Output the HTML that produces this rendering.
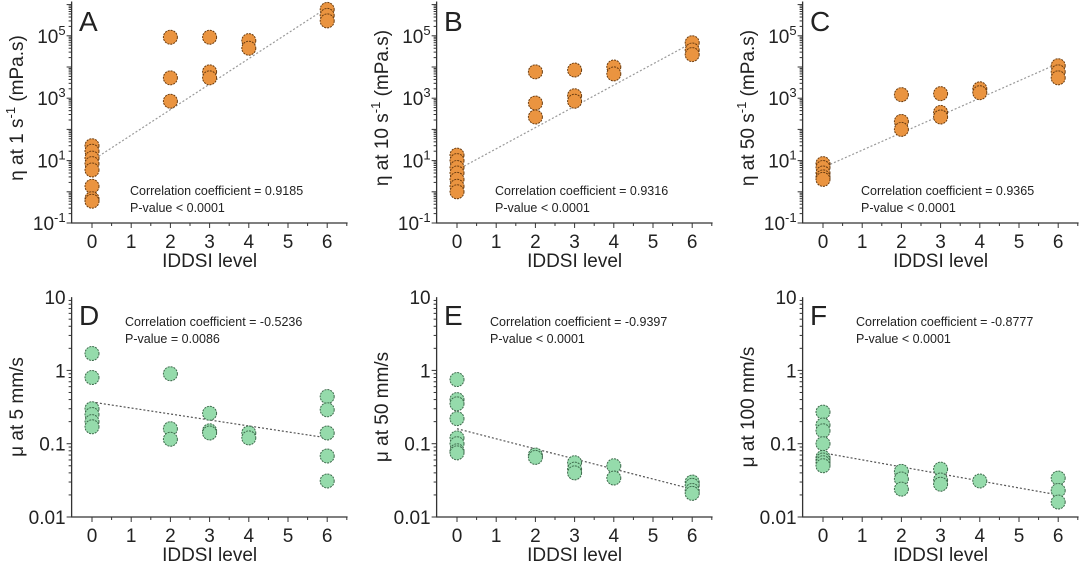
<!DOCTYPE html>
<html><head><meta charset="utf-8"><style>
body{margin:0;background:#fff;width:1080px;height:562px;overflow:hidden}
svg{display:block}
text{font-family:"Liberation Sans",sans-serif;fill:#222}
</style></head><body>
<svg id="fig" width="1080" height="562" viewBox="0 0 1080 562"></svg>
<script>
const levels=[0,2,3,4,6];
const xTicks=[0,1,2,3,4,5,6];
// Panel A
const aVals=[[30,20,12,8,5,1.5,0.6,0.5],[9e4,4.5e3,8e2],[9e4,7e3,4.5e3],[7e4,4e4],[7e5,4.5e5,3e5]];
const aTrend=[10,8e5];
// Panel B
const bVals=[[15,10,6,4,2.5,1.5,1],[7e3,7e2,2.5e2],[8e3,1.2e3,8e2],[1e4,6e3],[6e4,3.5e4,2.5e4]];
const bTrend=[5,6e4];
// Panel C
const cVals=[[8,6,4,3,2.5],[1.3e3,1.8e2,1e2],[1.4e3,3.5e2,2.5e2],[2e3,1.5e3],[1.1e4,7e3,4.5e3]];
const cTrend=[6,1.3e4];
// Panel D
const dVals=[[1.7,0.8,0.3,0.25,0.2,0.17],[0.9,0.16,0.115],[0.26,0.15,0.14],[0.14,0.12],[0.44,0.29,0.14,0.068,0.031]];
const dTrend=[0.37,0.12];
// Panel E
const eVals=[[0.75,0.4,0.35,0.22,0.12,0.1,0.08,0.075],[0.07,0.065],[0.055,0.045,0.04],[0.05,0.034],[0.03,0.027,0.023,0.021]];
const eTrend=[0.16,0.024];
// Panel F
const fVals=[[0.27,0.18,0.15,0.1,0.065,0.06,0.055,0.05],[0.042,0.033,0.024],[0.045,0.032,0.028],[0.031],[0.034,0.023,0.016]];
const fTrend=[0.075,0.02];
const topTicks=[-1,1,3,5];
const botTicks=["0.01","0.1","1","10"];

const NS="http://www.w3.org/2000/svg";
const svg=document.getElementById('fig');
function mk(tag,attrs,parent,txt){const e=document.createElementNS(NS,tag);for(const k in attrs)e.setAttribute(k,attrs[k]);if(txt!==undefined)e.textContent=txt;(parent||svg).appendChild(e);return e;}

const panels=[
 {id:'a',ox:0,top:true,vals:aVals,trend:aTrend,letter:'A',ylab:['η at 1 s','-1',' (mPa.s)'],r:'0.9185',p:'P-value < 0.0001'},
 {id:'b',ox:365,top:true,vals:bVals,trend:bTrend,letter:'B',ylab:['η at 10 s','-1',' (mPa.s)'],r:'0.9316',p:'P-value < 0.0001'},
 {id:'c',ox:731,top:true,vals:cVals,trend:cTrend,letter:'C',ylab:['η at 50 s','-1',' (mPa.s)'],r:'0.9365',p:'P-value < 0.0001'},
 {id:'d',ox:0,top:false,vals:dVals,trend:dTrend,letter:'D',ylab:['μ at 5 mm/s'],r:'-0.5236',p:'P-value = 0.0086'},
 {id:'e',ox:365,top:false,vals:eVals,trend:eTrend,letter:'E',ylab:['μ at 50 mm/s'],r:'-0.9397',p:'P-value < 0.0001'},
 {id:'f',ox:731,top:false,vals:fVals,trend:fTrend,letter:'F',ylab:['μ at 100 mm/s'],r:'-0.8777',p:'P-value < 0.0001'}
];

panels.forEach(P=>{
 const g=mk('g',{});
 
 
 const x0=P.ox+92, ux=39.2;
 const xs=v=>x0+v*ux;
 const axL=xs(-0.52), axR=xs(6.52);
 let ys, yBot, yTop, lo, hi;
 if(P.top){yBot=223;lo=-1;hi=6.1;const d=31.2;ys=v=>yBot-(Math.log10(v)-lo)*d;yTop=ys(Math.pow(10,hi));}
 else{yBot=517;lo=-2;hi=1;const d=73.3;ys=v=>yBot-(Math.log10(v)-lo)*d;yTop=ys(10);}
 const ax=mk('path',{d:`M${axL},${yTop}V${yBot}H${axR}`,fill:'none',stroke:'#333','stroke-width':1.3},g);
 
 for(let dec=lo;dec<Math.ceil(hi);dec++){for(let m=1;m<10;m++){const v=m*Math.pow(10,dec);const lv=Math.log10(v);if(lv>hi)break;const y=ys(v);mk('line',{x1:axL,x2:axL-(m==1?5:3),y1:y,y2:y,stroke:'#333','stroke-width':1},g);}}
 xTicks.forEach(t=>{mk('line',{x1:xs(t),x2:xs(t),y1:yBot,y2:yBot+5,stroke:'#333'},g);mk('line',{x1:xs(t+0.5),x2:xs(t+0.5),y1:yBot,y2:yBot+3,stroke:'#333'},g);
  const tl=mk('text',{x:xs(t),y:yBot+25,'text-anchor':'middle','font-size':19},g,String(t));
  });
 const xl=mk('text',{x:xs(3),y:yBot+44,'text-anchor':'middle','font-size':19},g,'IDDSI level');
 
 if(P.top){topTicks.forEach(e=>{const t=mk('text',{x:axL-6,y:ys(Math.pow(10,e))+7,'text-anchor':'end','font-size':19},g);t.appendChild(document.createTextNode('10'));mk('tspan',{dy:-8,'font-size':13},t,String(e));
  });}
 else{botTicks.forEach(s=>{const t=mk('text',{x:axL-6,y:ys(parseFloat(s))+7,'text-anchor':'end','font-size':19},g,s);
  });}
 const cy=P.top?108:407;
 const yt=mk('text',{x:0,y:0,'text-anchor':'middle','font-size':19,transform:`translate(${P.ox+23},${cy}) rotate(-90)`},g);
 
 yt.appendChild(document.createTextNode(P.ylab[0]));
 if(P.ylab.length>1){mk('tspan',{dy:-8,'font-size':13},yt,P.ylab[1]);mk('tspan',{dy:8},yt,P.ylab[2]);}
 const lt=mk('text',{x:P.ox+79,y:P.top?31:325,'font-size':28},g,P.letter);
 
 const tr=mk('line',{x1:xs(0),y1:ys(P.trend[0]),x2:xs(6),y2:ys(P.trend[1]),stroke:P.top?'#999':'#555','stroke-width':1.2,'stroke-dasharray':'2,2'},g);
 
 P.vals.forEach((arr,i)=>arr.forEach(v=>{const c=mk('circle',{cx:xs(levels[i]),cy:ys(v),r:7,fill:P.top?'#ea9440':'#95dbab',stroke:P.top?'#6a3c10':'#3e6a4c','stroke-width':1,'stroke-dasharray':'2,1'},g);
  }));
 const tx=P.top?P.ox+130:P.ox+125, ty=P.top?195:326;
 const a1=mk('text',{x:tx,y:ty,'font-size':12.5},g,'Correlation coefficient = '+P.r);
 
 const a2=mk('text',{x:tx,y:ty+17,'font-size':12.5},g,P.p);
 
});
</script>
</body></html>
